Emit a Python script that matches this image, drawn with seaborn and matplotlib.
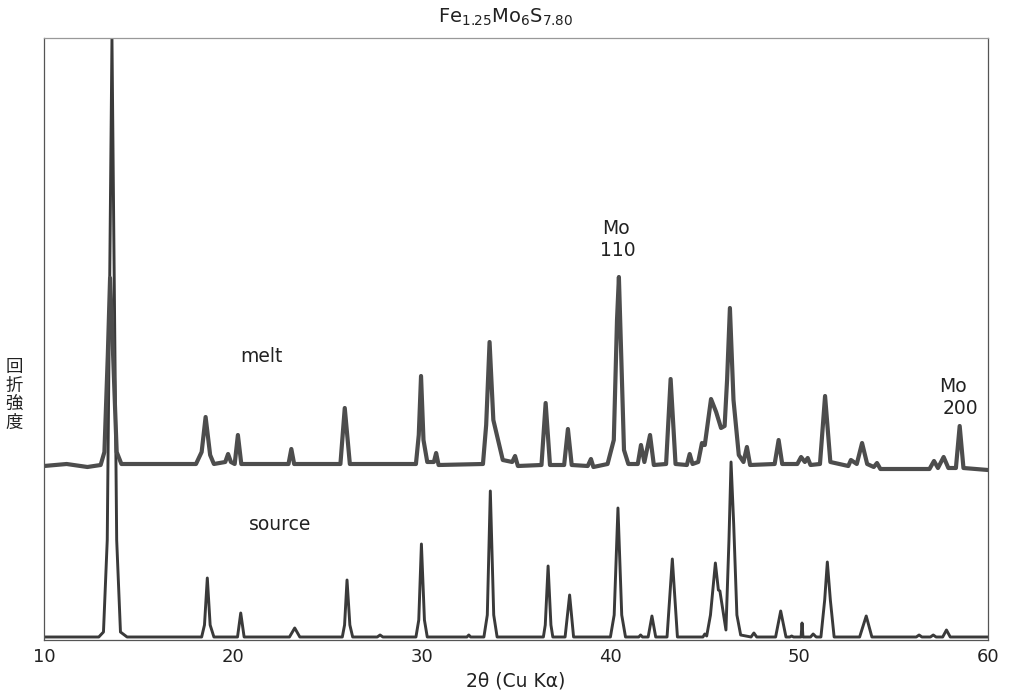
"""
Fe1.25Mo6S7.80 X線回折パターン (melt / source)
"""
import matplotlib
matplotlib.use("Agg")
import matplotlib.pyplot as plt
import pandas as pd
import seaborn as sns

# melt 試料: 2θ と強度
melt_2theta = [
    10.0, 11.2, 12.3, 13.0,
    13.2, 13.38, 13.5, 13.66, 13.85, 14.1,
    18.05, 18.35, 18.56, 18.8, 19.0,
    19.6, 19.75, 19.9, 20.1, 20.27, 20.45,
    22.95, 23.1, 23.25,
    25.7, 25.93, 26.2,
    29.7, 29.85, 29.97, 30.1, 30.3, 30.65, 30.77, 30.9,
    33.25, 33.42, 33.6, 33.8, 34.05, 34.3, 34.8, 34.95, 35.1,
    36.35, 36.57, 36.8, 37.55, 37.75, 37.95, 38.8, 38.97, 39.1,
    39.85, 40.18, 40.35, 40.45, 40.58, 40.72, 40.95,
    41.45, 41.62, 41.8, 42.1, 42.3,
    42.95, 43.19, 43.45, 44.05, 44.2, 44.35,
    44.65, 44.85, 45.0, 45.33, 45.6, 45.86, 46.05, 46.18, 46.33, 46.52, 46.8,
    47.05, 47.23, 47.4,
    48.7, 48.91, 49.1, 49.9, 50.1, 50.3, 50.45, 50.6,
    51.1, 51.37, 51.65, 52.6, 52.74, 53.05, 53.33, 53.6,
    53.95, 54.12, 54.3, 56.9, 57.14, 57.35, 57.65, 57.9,
    58.3, 58.5, 58.7, 60.0,
]
melt_counts = [
    174, 176, 173, 175,
    188, 285, 362, 285, 188, 176,
    176, 188, 223, 185, 176,
    178, 186, 178, 176, 205, 176,
    176, 191, 176,
    176, 232, 176,
    176, 205, 264, 200, 178, 178, 187, 175,
    176, 215, 298, 220, 200, 180, 178, 184, 174,
    175, 237, 175, 175, 211, 175, 174, 181, 173,
    176, 200, 320, 363, 280, 190, 176,
    176, 195, 178, 205, 175,
    176, 261, 176, 175, 186, 176,
    178, 197, 195, 241, 228, 212, 214, 260, 332, 240, 185,
    178, 193, 175,
    176, 200, 176, 176, 183, 178, 182, 175,
    176, 244, 178, 174, 180, 176, 197, 176,
    173, 177, 171, 171, 179, 172, 183, 172,
    172, 214, 172, 170,
]

# source 試料
source_2theta = [
    10.0, 12.9,
    13.15, 13.35, 13.6, 13.85, 14.05, 14.4,
    18.35, 18.5, 18.65, 18.8, 19.0,
    20.25, 20.42, 20.6,
    23.0, 23.28, 23.55,
    25.8, 25.92, 26.05, 26.2, 26.35,
    27.65, 27.8, 27.95,
    29.7, 29.85, 29.99, 30.15, 30.3,
    32.4, 32.5, 32.6,
    33.3, 33.48, 33.64, 33.82, 34.0,
    36.45, 36.55, 36.7, 36.85, 36.95,
    37.6, 37.84, 38.05,
    40.0, 40.2, 40.4, 40.6, 40.8,
    41.5, 41.6, 41.7, 42.0, 42.2, 42.4,
    43.0, 43.28, 43.55,
    44.9, 45.0, 45.1, 45.3, 45.56, 45.72, 45.8, 46.12, 46.28, 46.39,
    46.53, 46.7, 46.9,
    47.45, 47.6, 47.75,
    48.75, 49.02, 49.3, 49.5, 49.6, 49.7,
    50.1, 50.15, 50.2, 50.6, 50.74, 50.9,
    51.15, 51.35, 51.49, 51.65, 51.85,
    53.2, 53.55, 53.85,
    56.2, 56.35, 56.5, 56.95, 57.1, 57.25,
    57.6, 57.8, 58.0, 60.0,
]
source_counts = [
    3, 3,
    8, 100, 601, 100, 8, 3,
    3, 15, 62, 15, 3,
    3, 27, 3,
    3, 12, 3,
    3, 15, 60, 15, 3,
    3, 5, 3,
    3, 20, 96, 20, 3,
    3, 5, 3,
    3, 25, 149, 25, 3,
    3, 15, 74, 15, 3,
    3, 45, 3,
    3, 25, 132, 25, 3,
    3, 5, 3, 3, 24, 3,
    3, 81, 3,
    3, 6, 4, 25, 77, 50, 49, 10, 100, 178,
    116, 25, 5,
    3, 7, 3,
    3, 29, 3, 3, 4, 3,
    3, 17, 3, 3, 6, 3,
    3, 40, 78, 40, 3,
    3, 24, 3,
    3, 5, 3, 3, 5, 3,
    3, 10, 3, 3,
]

x_ticks = [10, 20, 30, 40, 50, 60]

melt_df = pd.DataFrame({"two_theta": melt_2theta, "counts": melt_counts})
source_df = pd.DataFrame({"two_theta": source_2theta, "counts": source_counts})

sns.set_theme(style="white")
plt.rcParams["font.family"] = ["DejaVu Sans", "Noto Sans CJK JP"]

fig = plt.figure(figsize=(10.11, 6.94), dpi=100)
ax = fig.add_axes([44 / 1011, 54 / 694, 944 / 1011, 602 / 694])

line_kw = dict(estimator=None, sort=False, legend=False, ax=ax,
               solid_joinstyle="round", solid_capstyle="round")
sns.lineplot(data=source_df, x="two_theta", y="counts", color="#3a3a3a",
             linewidth=2.1, **line_kw)
sns.lineplot(data=melt_df, x="two_theta", y="counts", color="#4d4d4d",
             linewidth=3.0, **line_kw)

ax.set_xlim(10, 60)
ax.set_ylim(0, 602)
ax.set_xticks(x_ticks)
ax.set_xticklabels([str(t) for t in x_ticks], fontsize=13, color="#222222")
ax.set_yticks([])
ax.tick_params(axis="x", length=0, pad=6)
ax.set_xlabel("2θ (Cu Kα)", fontsize=13.5, color="#222222", labelpad=4)
ax.set_ylabel("")

for side in ["left", "right", "top", "bottom"]:
    ax.spines[side].set_visible(True)
    ax.spines[side].set_color("#555555")
    ax.spines[side].set_linewidth(0.9)
ax.spines["top"].set_color("#999999")

# 注記
txt_kw = dict(fontsize=13.5, color="#222222", ha="center", va="center")
ax.text(21.5, 284, "melt", **txt_kw)
ax.text(22.5, 115, "source", **txt_kw)
ax.text(40.3, 412, "Mo", **txt_kw)
ax.text(40.4, 390, "110", **txt_kw)
ax.text(58.15, 254, "Mo", **txt_kw)
ax.text(58.55, 232, "200", **txt_kw)

fig.text(0.5, 1 - 17 / 694, r"Fe$_{1.25}$Mo$_6$S$_{7.80}$", fontsize=14,
         color="#222222", ha="center", va="center")
fig.text(14 / 1011, 1 - 395 / 694, "回\n折\n強\n度", fontsize=12.5,
         color="#222222", ha="center", va="center", linespacing=1.05,
         family=["Noto Sans CJK JP", "DejaVu Sans"])

fig.savefig("out.png", dpi=100)
